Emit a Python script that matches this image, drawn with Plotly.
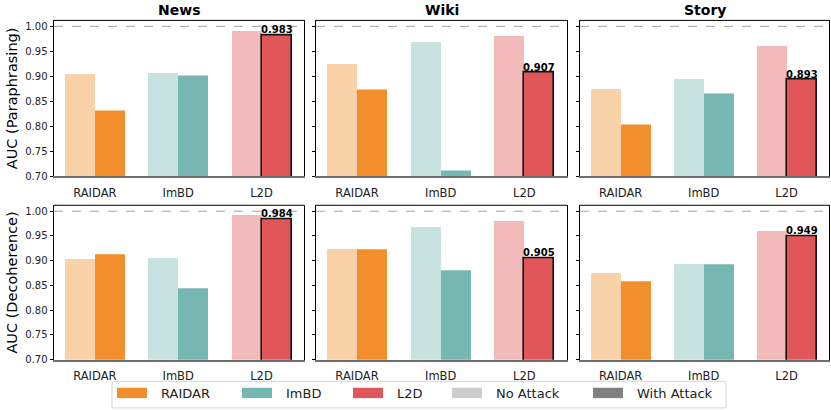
import plotly.graph_objects as go

methods = ["RAIDAR", "ImBD", "L2D"]
datasets = ["News", "Wiki", "Story"]
attacks = ["Paraphrasing", "Decoherence"]

# No attack / with attack AUC values, per attack row, per dataset
para_no = {"News": [0.903, 0.905, 0.991], "Wiki": [0.925, 0.968, 0.980], "Story": [0.873, 0.893, 0.960]}
para_with = {"News": [0.832, 0.901, 0.983], "Wiki": [0.874, 0.712, 0.907], "Story": [0.803, 0.866, 0.893]}
deco_no = {"News": [0.902, 0.904, 0.991], "Wiki": [0.924, 0.967, 0.979], "Story": [0.874, 0.892, 0.959]}
deco_with = {"News": [0.914, 0.845, 0.984], "Wiki": [0.924, 0.880, 0.905], "Story": [0.858, 0.892, 0.949]}

ytick_vals = [0.70, 0.75, 0.80, 0.85, 0.90, 0.95, 1.00]
ytick_text = ["0.70", "0.75", "0.80", "0.85", "0.90", "0.95", "1.00"]

solid = ["#F28E2B", "#76B7B2", "#E15759"]
light = ["#F9D2AA", "#C8E2E0", "#F3BABB"]

W, H = 831, 410


def px(x):
    return x / W


def py(y):
    return 1 - y / H


xpx = [(54, 304), (316, 567), (580, 829)]
ypx = [(20.7, 179), (208.3, 365)]
FONT = "DejaVu Sans"

fig = go.Figure()
shapes = []
annotations = []

rows = [(para_no, para_with), (deco_no, deco_with)]
idx = 0
for r, (no_d, with_d) in enumerate(rows):
    for c, ds in enumerate(datasets):
        idx += 1
        xa = "x" if idx == 1 else f"x{idx}"
        ya = "y" if idx == 1 else f"y{idx}"
        xk = "xaxis" if idx == 1 else f"xaxis{idx}"
        yk = "yaxis" if idx == 1 else f"yaxis{idx}"
        no_v = no_d[ds]
        w_v = with_d[ds]
        fig.add_trace(go.Bar(
            x=[i - 0.18 for i in range(3)], y=no_v, width=0.36,
            marker=dict(color=light, line=dict(width=0)),
            xaxis=xa, yaxis=ya, showlegend=False, hoverinfo="y"))
        fig.add_trace(go.Bar(
            x=[i + 0.18 for i in range(3)], y=w_v, width=0.36,
            marker=dict(color=solid,
                        line=dict(width=[0, 0, 1.6], color=["rgba(0,0,0,0)", "rgba(0,0,0,0)", "#111"])),
            xaxis=xa, yaxis=ya, showlegend=False, hoverinfo="y"))
        # label on L2D with-attack bar
        annotations.append(dict(x=2 + 0.18, y=w_v[2], xref=xa, yref=ya, text=f"<b>{w_v[2]:.3f}</b>",
                                showarrow=False, xanchor="center", yanchor="bottom", yshift=-2,
                                font=dict(family=FONT, size=10, color="black")))
        x0, x1 = xpx[c]
        y0, y1 = ypx[r]
        fig.layout[xk] = dict(
            domain=[px(x0), px(x1)], anchor=ya, range=[-0.49, 2.51],
            tickvals=[0, 1, 2], ticktext=methods, showgrid=False, zeroline=False,
            showline=True, linecolor="#6e6e6e", linewidth=1.6, mirror=False,
            ticks="", ticklabelstandoff=5,
            tickfont=dict(family=FONT, size=11.5, color="#222"), fixedrange=True)
        fig.layout[yk] = dict(
            domain=[py(y1), py(y0)], anchor=xa, range=[0.70, 1.012],
            tickvals=ytick_vals, ticktext=ytick_text, showticklabels=(c == 0),
            showgrid=False, zeroline=False, showline=True, linecolor="black", linewidth=1,
            mirror=True, ticks="outside", ticklen=3.5, tickcolor="black", tickwidth=0.8,
            tickfont=dict(family=FONT, size=10, color="#222"), fixedrange=True)
        if c == 0:
            fig.layout[yk].title = dict(text=f"AUC ({attacks[r]})", standoff=4,
                                        font=dict(family=FONT, size=14.5, color="black"))
        # top spine
        shapes.append(dict(type="line", xref=f"{xa} domain", yref=f"{ya} domain",
                           x0=0, x1=1, y0=1, y1=1, line=dict(color="black", width=1)))
        # dashed reference line at 1.0
        shapes.append(dict(type="line", xref=f"{xa} domain", yref=ya, x0=0, x1=1, y0=1.0, y1=1.0,
                           line=dict(color="#999999", width=0.9, dash="dash"), layer="below"))
        if r == 0:
            annotations.append(dict(x=px((x0 + x1) / 2), y=py(10.5), xref="paper", yref="paper",
                                    xanchor="center", yanchor="middle",
                                    text=f"<b>{ds}</b>", showarrow=False,
                                    font=dict(family=FONT, size=14, color="black")))

# Legend drawn as boxes + text
legend_labels = ["RAIDAR", "ImBD", "L2D", "No Attack", "With Attack"]
legend_colors = ["#F28E2B", "#76B7B2", "#E15759", "#CCCCCC", "#808080"]
legend_icon_x = [117, 242, 353, 452, 593]
lx0, lx1, ly0, ly1 = 112, 726, 387, 414
rr = 3
path = (f"M {px(lx0 + rr)},{py(ly0)} L {px(lx1 - rr)},{py(ly0)} "
        f"Q {px(lx1)},{py(ly0)} {px(lx1)},{py(ly0 + rr)} "
        f"L {px(lx1)},{py(ly1)} L {px(lx0)},{py(ly1)} L {px(lx0)},{py(ly0 + rr)} "
        f"Q {px(lx0)},{py(ly0)} {px(lx0 + rr)},{py(ly0)} Z")
shapes.append(dict(type="path", xref="paper", yref="paper", path=path,
                   line=dict(color="#d5d5d5", width=1), fillcolor="white"))
for lab, col, ix in zip(legend_labels, legend_colors, legend_icon_x):
    shapes.append(dict(type="rect", xref="paper", yref="paper",
                       x0=px(ix), x1=px(ix + 30), y0=py(404), y1=py(393.5),
                       line=dict(width=0), fillcolor=col))
    annotations.append(dict(x=px(ix + 42), y=py(399), xref="paper", yref="paper",
                            text=lab, showarrow=False, xanchor="left", yanchor="middle",
                            font=dict(family=FONT, size=13, color="#222")))

fig.update_layout(
    width=W, height=H, margin=dict(l=0, r=0, t=0, b=0),
    plot_bgcolor="white", paper_bgcolor="white", barmode="overlay", bargap=0,
    showlegend=False, shapes=shapes, annotations=annotations,
    font=dict(family=FONT))

fig.write_html("out.html", config={"displayModeBar": False},
               post_script="document.body.style.margin='0';document.body.style.overflow='hidden';")
